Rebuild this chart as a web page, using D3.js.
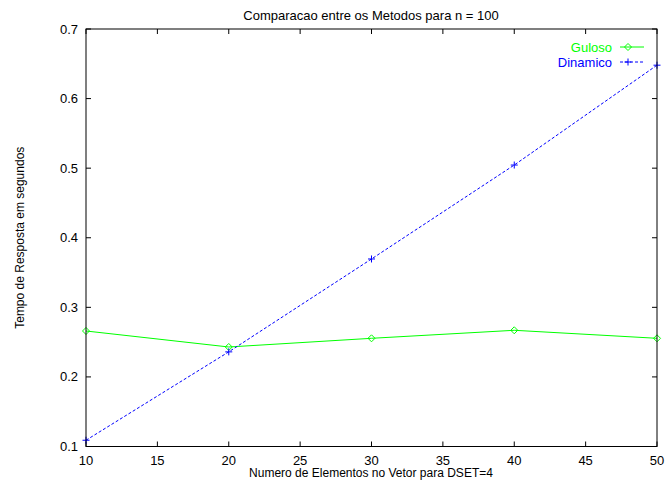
<!DOCTYPE html>
<html>
<head>
<meta charset="utf-8">
<script src="https://cdn.jsdelivr.net/npm/d3@7"></script>
<style>
  body { margin: 0; background: #fff; }
  text { font-family: "Liberation Sans", Arial, sans-serif; font-size: 12px; fill: #000; }
</style>
</head>
<body>
<div id="chart"></div>
<script>
// data
var xValues = [10, 20, 30, 40, 50];
var guloso = [0.266, 0.243, 0.2555, 0.267, 0.2555];
var dinamico = [0.109, 0.236, 0.3695, 0.5045, 0.648];
var xTicks = [10, 15, 20, 25, 30, 35, 40, 45, 50];
var yTicks = [0.1, 0.2, 0.3, 0.4, 0.5, 0.6, 0.7];

(function () {
  var W = 666, H = 486;
  var mLeft = 86, mRight = 657, mTop = 29, mBottom = 446.5;

  var svg = d3.select('#chart').append('svg')
    .attr('width', W).attr('height', H);

  var x = d3.scaleLinear().domain([10, 50]).range([mLeft, mRight]);
  var y = d3.scaleLinear().domain([0.1, 0.7]).range([mBottom, mTop]);

  // ticks, inside on all four sides (gnuplot style)
  var tickLen = 5;
  var axes = svg.append('g').attr('stroke', '#000').attr('stroke-width', 1);
  xTicks.forEach(function (t) {
    axes.append('line').attr('x1', x(t)).attr('x2', x(t)).attr('y1', mBottom).attr('y2', mBottom - tickLen);
    axes.append('line').attr('x1', x(t)).attr('x2', x(t)).attr('y1', mTop).attr('y2', mTop + tickLen);
  });
  yTicks.forEach(function (t) {
    axes.append('line').attr('x1', mLeft).attr('x2', mLeft + tickLen).attr('y1', y(t)).attr('y2', y(t));
    axes.append('line').attr('x1', mRight).attr('x2', mRight - tickLen).attr('y1', y(t)).attr('y2', y(t));
  });

  svg.selectAll('.xlab').data(xTicks).enter().append('text')
    .attr('x', function (d) { return x(d); })
    .attr('y', mBottom + 18)
    .attr('text-anchor', 'middle')
    .style('font-size', '13px')
    .text(function (d) { return d; });

  svg.selectAll('.ylab').data(yTicks).enter().append('text')
    .attr('x', mLeft - 8)
    .attr('y', function (d) { return y(d) + 4.5; })
    .attr('text-anchor', 'end')
    .style('font-size', '13px')
    .text(function (d) { return d3.format('.1f')(d); });

  // data lines
  var line = d3.line()
    .x(function (d, i) { return x(xValues[i]); })
    .y(function (d) { return y(d); });

  svg.append('path').datum(guloso)
    .attr('d', line).attr('fill', 'none')
    .attr('stroke', '#00ff00').attr('stroke-width', 1);

  svg.append('path').datum(dinamico)
    .attr('d', line).attr('fill', 'none')
    .attr('stroke', '#0000ff').attr('stroke-width', 1)
    .attr('stroke-dasharray', '3,2');

  var diamond = function (cx, cy) {
    var s = 3.5;
    return 'M' + cx + ',' + (cy - s) + 'L' + (cx + s) + ',' + cy + 'L' + cx + ',' + (cy + s) + 'L' + (cx - s) + ',' + cy + 'Z';
  };
  var plus = function (cx, cy) {
    var s = 3.5;
    return 'M' + (cx - s) + ',' + cy + 'H' + (cx + s) + 'M' + cx + ',' + (cy - s) + 'V' + (cy + s);
  };

  svg.selectAll('.gpt').data(guloso).enter().append('path')
    .attr('d', function (d, i) { return diamond(x(xValues[i]), y(d)); })
    .attr('fill', 'none').attr('stroke', '#00ff00').attr('stroke-width', 1);

  svg.selectAll('.dpt').data(dinamico).enter().append('path')
    .attr('d', function (d, i) { return plus(x(xValues[i]), y(d)); })
    .attr('fill', 'none').attr('stroke', '#0000ff').attr('stroke-width', 1);

  // border
  svg.append('rect')
    .attr('x', mLeft).attr('y', mTop)
    .attr('width', mRight - mLeft).attr('height', mBottom - mTop)
    .attr('fill', 'none').attr('stroke', '#000').attr('stroke-width', 1);

  // legend
  var leg = svg.append('g');
  leg.append('text').attr('x', 612).attr('y', 52).attr('text-anchor', 'end')
    .style('fill', '#00ff00').style('font-size', '13px').text('Guloso');
  leg.append('line').attr('x1', 620).attr('x2', 644).attr('y1', 47).attr('y2', 47)
    .attr('stroke', '#00ff00');
  leg.append('path').attr('d', diamond(628, 47)).attr('fill', 'none').attr('stroke', '#00ff00');

  leg.append('text').attr('x', 612).attr('y', 67).attr('text-anchor', 'end')
    .style('fill', '#0000ff').style('font-size', '13px').text('Dinamico');
  leg.append('line').attr('x1', 620).attr('x2', 644).attr('y1', 62).attr('y2', 62)
    .attr('stroke', '#0000ff').attr('stroke-dasharray', '3,2');
  leg.append('path').attr('d', plus(628, 62)).attr('fill', 'none').attr('stroke', '#0000ff');

  // titles
  svg.append('text').attr('x', 371).attr('y', 20).attr('text-anchor', 'middle')
    .style('font-size', '13px')
    .text('Comparacao entre os Metodos para n = 100');
  svg.append('text').attr('x', 371).attr('y', 477).attr('text-anchor', 'middle')
    .text('Numero de Elementos no Vetor para DSET=4');
  svg.append('text')
    .attr('transform', 'translate(24,' + ((mTop + mBottom) / 2) + ') rotate(-90)')
    .attr('text-anchor', 'middle')
    .text('Tempo de Resposta em segundos');
})();
</script>
</body>
</html>
